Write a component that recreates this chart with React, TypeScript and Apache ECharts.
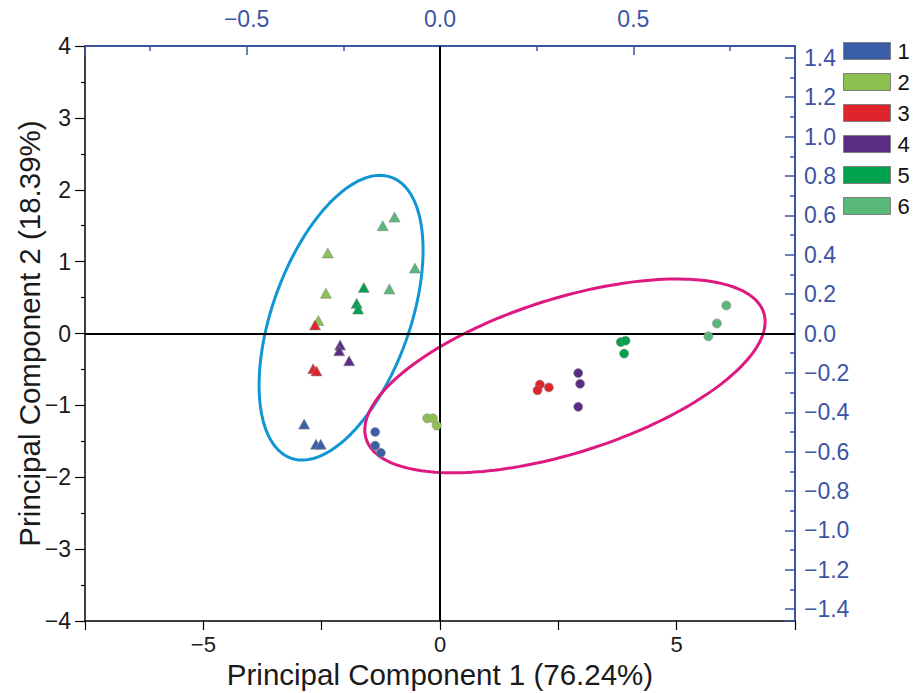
import React, { useEffect, useRef } from "react";
import * as echarts from "echarts";

// ---- Data ----
const GROUPS = ["1", "2", "3", "4", "5", "6"];
const COLORS = ["#3a5ea8", "#8cc152", "#e0242b", "#5a2d82", "#00a14f", "#5bb87b"];

// Triangles (left cluster)
const TRI_1 = [[-2.87, -1.26], [-2.62, -1.54], [-2.52, -1.54]];
const TRI_2 = [[-2.37, 1.12], [-2.41, 0.56], [-2.57, 0.18]];
const TRI_3 = [[-2.64, 0.12], [-2.68, -0.49], [-2.61, -0.52]];
const TRI_4 = [[-2.11, -0.16], [-2.13, -0.24], [-1.92, -0.38]];
const TRI_5 = [[-1.61, 0.64], [-1.76, 0.42], [-1.73, 0.34]];
const TRI_6 = [[-0.96, 1.62], [-1.21, 1.5], [-0.53, 0.91], [-1.07, 0.62]];

// Circles (right cluster)
const CIR_1 = [[-1.37, -1.37], [-1.37, -1.56], [-1.25, -1.66]];
const CIR_2 = [[-0.27, -1.18], [-0.15, -1.18], [-0.07, -1.28]];
const CIR_3 = [[2.11, -0.71], [2.06, -0.79], [2.3, -0.75]];
const CIR_4 = [[2.92, -0.55], [2.96, -0.7], [2.92, -1.02]];
const CIR_5 = [[3.82, -0.12], [3.92, -0.1], [3.89, -0.28]];
const CIR_6 = [[5.67, -0.04], [5.85, 0.14], [6.05, 0.39]];

const TRIANGLES = [TRI_1, TRI_2, TRI_3, TRI_4, TRI_5, TRI_6];
const CIRCLES = [CIR_1, CIR_2, CIR_3, CIR_4, CIR_5, CIR_6];

// Cluster ellipses (data units: centre, semi-axes, tilt in degrees)
const BLUE_ELLIPSE = { cx: -2.09, cy: 0.22, a: 2.27, b: 1.33, angle: 52.9 };
const PINK_ELLIPSE = { cx: 2.64, cy: -0.59, a: 4.3, b: 1.1, angle: 10.8 };

const X_LABELS = [-5, 0, 5];

const FONT = "'Liberation Sans', Arial, Helvetica, sans-serif";
const AXIS_BLUE = "#3b55a3";
const TICK_FONT = 23;
const NAME_FONT = 29.5;

function ellipsePoints(e: { cx: number; cy: number; a: number; b: number; angle: number }) {
  const pts: number[][] = [];
  const r = (e.angle * Math.PI) / 180;
  const n = 200;
  for (let i = 0; i <= n; i++) {
    const t = (2 * Math.PI * i) / n;
    const u = e.a * Math.cos(t);
    const v = e.b * Math.sin(t);
    pts.push([e.cx + u * Math.cos(r) - v * Math.sin(r), e.cy + u * Math.sin(r) + v * Math.cos(r)]);
  }
  return pts;
}

const minus = (s: string) => s.replace("-", "\u2212");

export default function App() {
  const ref = useRef<HTMLDivElement>(null);

  useEffect(() => {
    if (!ref.current) return;
    const chart = echarts.init(ref.current, undefined, { renderer: "svg" });

    const scatterSeries = GROUPS.map((g, i) => ({
      name: g,
      type: "scatter",
      xAxisIndex: 0,
      yAxisIndex: 0,
      z: 5,
      itemStyle: { color: COLORS[i], borderColor: "#8a8a8a", borderWidth: 0.6, opacity: 1 },
      data: [
        ...TRIANGLES[i].map((p) => ({ value: p, symbol: "triangle", symbolSize: [11, 10] })),
        ...CIRCLES[i].map((p) => ({ value: p, symbol: "circle", symbolSize: 9 })),
      ],
      ...(i === 0
        ? {
            markLine: {
              silent: true,
              symbol: ["none", "none"],
              label: { show: false },
              lineStyle: { color: "#000", width: 2, type: "solid" },
              data: [{ xAxis: 0 }, { yAxis: 0 }],
            },
          }
        : {}),
    }));

    const ellipseSeries = [
      { name: "ellipseBlue", e: BLUE_ELLIPSE, color: "#1196d4" },
      { name: "ellipsePink", e: PINK_ELLIPSE, color: "#de1a82" },
    ].map((s) => ({
      name: s.name,
      type: "line",
      xAxisIndex: 0,
      yAxisIndex: 0,
      z: 3,
      showSymbol: false,
      symbol: "none",
      silent: true,
      lineStyle: { color: s.color, width: 3 },
      data: ellipsePoints(s.e),
    }));

    chart.setOption({
      animation: false,
      backgroundColor: "#ffffff",
      textStyle: { fontFamily: FONT },
      grid: { left: 85, right: 119, top: 46, bottom: 72, containLabel: false, outerBoundsMode: "none" },
      legend: {
        data: GROUPS,
        orient: "vertical",
        left: 838,
        top: 35,
        padding: 5,
        itemWidth: 47,
        itemHeight: 17,
        itemGap: 9,
        icon: "rect",
        itemStyle: { borderColor: "#7f7f7f", borderWidth: 1, opacity: 1 },
        textStyle: { fontSize: 22, color: "#111", fontFamily: FONT, padding: [0, 0, 0, 2] },
      },
      xAxis: [
        {
          type: "value",
          position: "bottom",
          min: -7.5,
          max: 7.5,
          interval: 2.5,
          name: "Principal Component 1 (76.24%)",
          nameLocation: "middle",
          nameGap: 38,
          nameMoveOverlap: false,
          nameTextStyle: { fontSize: NAME_FONT, color: "#1a1a1a", fontFamily: FONT },
          axisLine: { show: true, onZero: false, lineStyle: { color: "#000", width: 1.5 } },
          axisTick: { show: true, inside: false, length: 9, lineStyle: { color: "#000", width: 1.2 } },
          splitLine: { show: false },
          axisLabel: {
            fontSize: 22,
            color: "#1a1a1a",
            margin: 12,
            formatter: (v: number) => (X_LABELS.some((t) => Math.abs(t - v) < 1e-9) ? minus(String(v)) : ""),
          },
        },
        {
          type: "value",
          position: "top",
          min: -0.918,
          max: 0.918,
          splitNumber: 3,
          minInterval: 0.5,
          maxInterval: 0.5,
          axisLine: { show: true, onZero: false, lineStyle: { color: AXIS_BLUE, width: 2 } },
          axisTick: { show: true, inside: true, length: 9, lineStyle: { color: AXIS_BLUE, width: 1.5 } },
          minorTick: { show: true, splitNumber: 2, length: 5, lineStyle: { color: AXIS_BLUE, width: 1.5 } },
          splitLine: { show: false },
          minorSplitLine: { show: false },
          axisLabel: {
            fontSize: TICK_FONT,
            color: AXIS_BLUE,
            margin: 16,
            showMinLabel: false,
            showMaxLabel: false,
            formatter: (v: number) => (Math.abs(v) < 1e-9 ? "0.0" : minus(v.toFixed(1))),
          },
        },
      ],
      yAxis: [
        {
          type: "value",
          position: "left",
          min: -4,
          max: 4,
          interval: 1,
          name: "Principal Component 2 (18.39%)",
          nameLocation: "middle",
          nameGap: 41,
          nameMoveOverlap: false,
          nameTextStyle: { fontSize: NAME_FONT, color: "#1a1a1a", fontFamily: FONT },
          axisLine: { show: true, onZero: false, lineStyle: { color: "#000", width: 1.5 } },
          axisTick: { show: true, inside: false, length: 10, lineStyle: { color: "#000", width: 1.2 } },
          minorTick: { show: true, splitNumber: 2, length: 4, lineStyle: { color: "#000", width: 1.2 } },
          splitLine: { show: false },
          minorSplitLine: { show: false },
          axisLabel: {
            fontSize: TICK_FONT,
            color: "#1a1a1a",
            margin: 14,
            formatter: (v: number) => minus(String(v)),
          },
        },
        {
          type: "value",
          position: "right",
          min: -1.46,
          max: 1.46,
          splitNumber: 14,
          minInterval: 0.2,
          maxInterval: 0.2,
          axisLine: { show: true, onZero: false, lineStyle: { color: AXIS_BLUE, width: 2 } },
          axisTick: { show: true, inside: true, length: 10, lineStyle: { color: AXIS_BLUE, width: 1.5 } },
          minorTick: { show: true, splitNumber: 2, length: 5, lineStyle: { color: AXIS_BLUE, width: 1.5 } },
          splitLine: { show: false },
          minorSplitLine: { show: false },
          axisLabel: {
            fontSize: TICK_FONT,
            color: AXIS_BLUE,
            margin: 9,
            showMinLabel: false,
            showMaxLabel: false,
            formatter: (v: number) => (Math.abs(v) < 1e-9 ? "0.0" : minus(v.toFixed(1))),
          },
        },
      ],
      series: [...ellipseSeries, ...scatterSeries],
    });

    return () => chart.dispose();
  }, []);

  return (
    <div
      ref={ref}
      style={{ position: "fixed", left: 0, top: 0, width: 914, height: 693, background: "#fff" }}
    />
  );
}
